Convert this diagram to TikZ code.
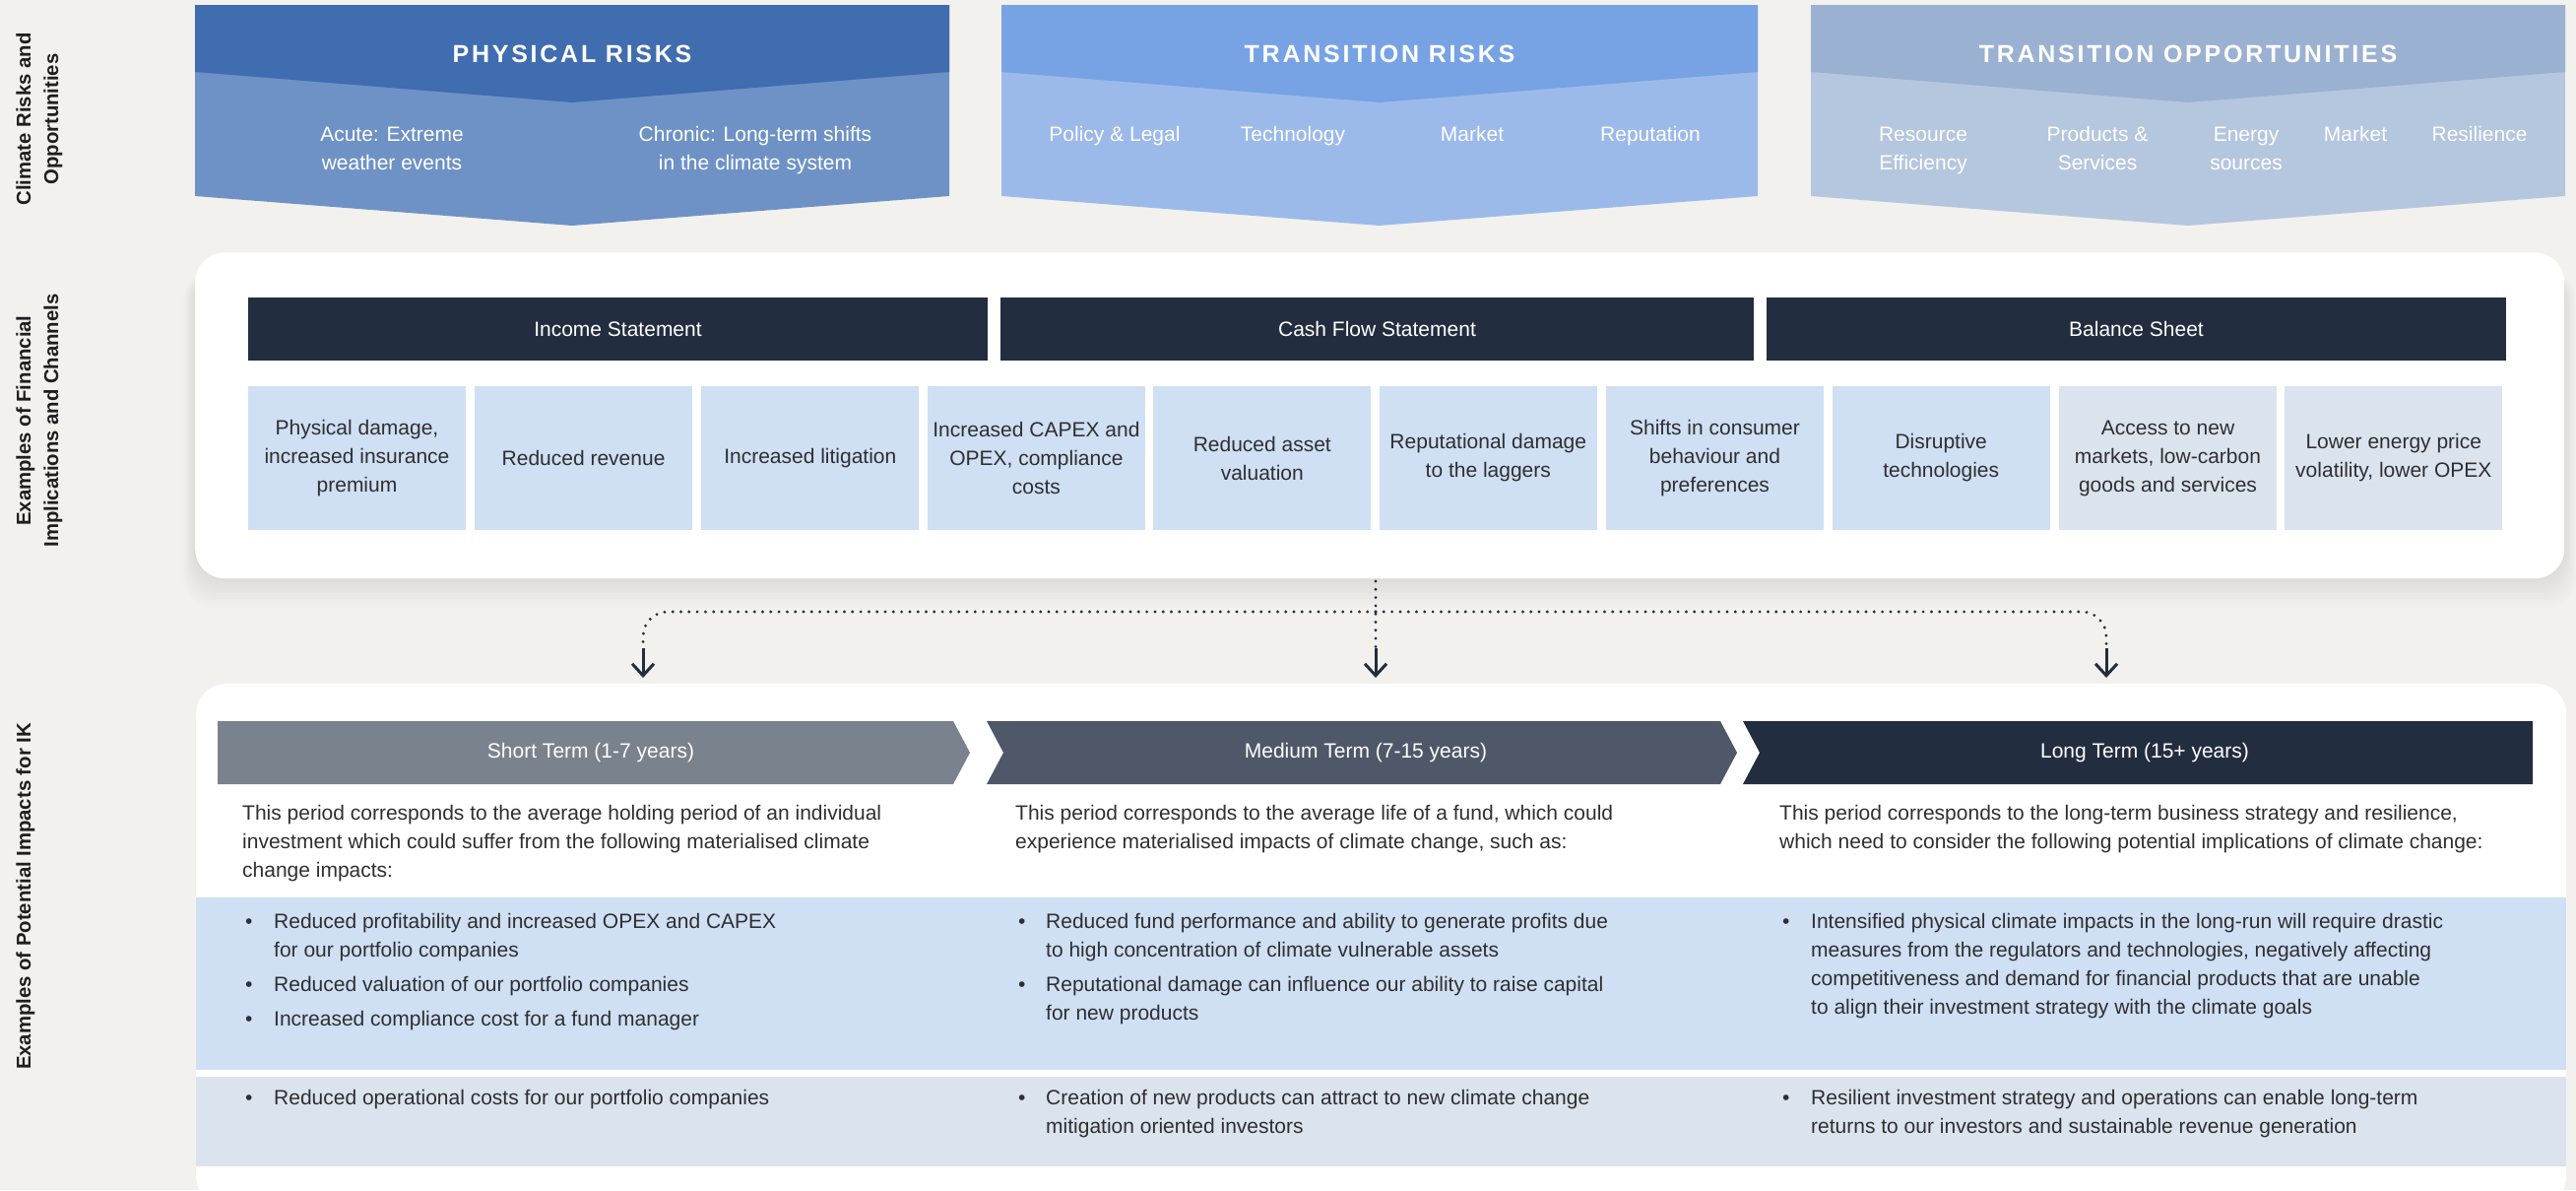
\documentclass[tikz,border=0pt]{standalone}
\usepackage{fontspec}
\setmainfont{Liberation Sans}
\newfontfamily\ttlfont[LetterSpace=11]{Liberation Sans}
\usetikzlibrary{arrows.meta}
\definecolor{bgc}{HTML}{F2F1EE}
\definecolor{physD}{HTML}{406CB0}
\definecolor{physL}{HTML}{6E92C6}
\definecolor{tranD}{HTML}{77A3E4}
\definecolor{tranL}{HTML}{9BBAEA}
\definecolor{oppD}{HTML}{9BB1D1}
\definecolor{oppL}{HTML}{B5C6DF}
\definecolor{navy}{HTML}{222D40}
\definecolor{lblue}{HTML}{CFDFF4}
\definecolor{lgray}{HTML}{DBE3EE}
\definecolor{shortc}{HTML}{7A828E}
\definecolor{medc}{HTML}{4E5869}
\definecolor{textc}{HTML}{2F2F2F}
\definecolor{labc}{HTML}{1E1E1E}
\newcommand\bodyfont{\fontsize{21}{29}\selectfont}
\newcommand\mkbanner[5]{%
  \fill[fill=#5] (#1,5) -- (#2,5) -- (#2,199) -- (#3,229) -- (#1,199) -- cycle;
  \fill[fill=#4] (#1,5) -- (#2,5) -- (#2,73) -- (#3,104) -- (#1,73) -- cycle;}
\begin{document}
\begin{tikzpicture}[x=1pt,y=-1pt,
  bannertitle/.style={text=white,inner sep=0,font=\ttlfont\bfseries\fontsize{25}{30}\selectfont},
  bitem/.style={text=white,align=center,anchor=north,inner sep=0,font=\bodyfont},
  sidelab/.style={rotate=90,align=center,inner sep=0,text=labc,font=\bfseries\fontsize{20.3}{28}\selectfont},
  panel/.style={fill=white,rounded corners=30,inner sep=0,anchor=north west},
  hdr/.style={fill=navy,text=white,minimum height=64,inner sep=0,font=\bodyfont},
  fbox/.style={fill=lblue,text=textc,minimum width=221,minimum height=146,inner sep=0,align=center,font=\bodyfont},
  gbox/.style={fbox,fill=lgray},
  dotl/.style={draw=navy,line width=3.2,line cap=round,dash pattern=on 0pt off 8.3pt},
  arr/.style={draw=navy,line width=3,-{Straight Barb[length=12pt,width=22pt]}},
  term/.style={text=white,inner sep=0,font=\bodyfont},
  para/.style={anchor=north west,inner sep=0,align=left,text=textc,font=\bodyfont},
  blist/.style={anchor=north west,inner sep=0,text=textc,font=\bodyfont}]
\useasboundingbox (0,0) rectangle (2616,1208);
\fill[bgc] (0,0) rectangle (2616,1208);

% side labels
\node[sidelab] (l1) at (40,121) {Climate Risks and\\Opportunities};
\node[sidelab] (l2) at (40,427) {Examples of Financial\\Implications and Channels};
\node[sidelab] (l3) at (26,910) {Examples of Potential Impacts for IK};

% top banners
\mkbanner{198}{964}{581}{physD}{physL}
\mkbanner{1017}{1785}{1401}{tranD}{tranL}
\mkbanner{1839}{2605}{2222}{oppD}{oppL}
\node[bannertitle] (phys) at (581,55) {PHYSICAL RISKS};
\node[bannertitle] (tran) at (1401,55) {TRANSITION RISKS};
\node[bannertitle] (opp) at (2222,55) {TRANSITION OPPORTUNITIES};

\node[bitem] (p1) at (398,123) {\strut Acute: Extreme\\weather events};
\node[bitem] (p2) at (767,123) {\strut Chronic: Long-term shifts\\in the climate system};
\node[bitem] (t1) at (1132,123) {\strut Policy \& Legal};
\node[bitem] (t2) at (1313,123) {\strut Technology};
\node[bitem] (t3) at (1495,123) {\strut Market};
\node[bitem] (t4) at (1676,123) {\strut Reputation};
\node[bitem] (o1) at (1953,123) {\strut Resource\\Efficiency};
\node[bitem] (o2) at (2130,123) {\strut Products \&\\Services};
\node[bitem] (o3) at (2281,123) {\strut Energy\\sources};
\node[bitem] (o4) at (2392,123) {\strut Market};
\node[bitem] (o5) at (2518,123) {\strut Resilience};

% finance panel with soft shadow
\foreach \i in {0,3,...,30}
  \fill[black,opacity=0.007,rounded corners=30] (198-0.4*\i,275) rectangle (2604+0.4*\i,587+\i);
\node[panel,minimum width=2406,minimum height=331] (fin) at (198,256) {};
\node[hdr,minimum width=751] (inc) at (627.5,334) {Income Statement};
\node[hdr,minimum width=765] (cash) at (1398.5,334) {Cash Flow Statement};
\node[hdr,minimum width=751] (bal) at (2169.5,334) {Balance Sheet};

\node[fbox] (f1) at (362.5,465) {Physical damage,\\increased insurance\\premium};
\node[fbox] (f2) at (592.6,465) {Reduced revenue};
\node[fbox] (f3) at (822.8,465) {Increased litigation};
\node[fbox] (f4) at (1052.4,465) {Increased CAPEX and\\OPEX, compliance\\costs};
\node[fbox] (f5) at (1281.8,465) {Reduced asset\\valuation};
\node[fbox] (f6) at (1511.3,465) {Reputational damage\\to the laggers};
\node[fbox] (f7) at (1741.5,465) {Shifts in consumer\\behaviour and\\preferences};
\node[fbox] (f8) at (1971.2,465) {Disruptive\\technologies};
\node[gbox] (f9) at (2201.5,465) {Access to new\\markets, low-carbon\\goods and services};
\node[gbox] (f10) at (2430.8,465) {Lower energy price\\volatility, lower OPEX};

% connectors
\coordinate (src) at (1397,590);
\coordinate (jn) at (1397,621);
\coordinate (sS) at (653,658);
\coordinate (sM) at (1397,658);
\coordinate (sL) at (2139,658);
\coordinate (tS) at (653,688);
\coordinate (tM) at (1397,688);
\coordinate (tL) at (2139,688);
\draw[dotl] (src) -- (sM);
\draw[dotl,rounded corners=25] (jn) -| (sS);
\draw[dotl,rounded corners=25] (jn) -| (sL);
\draw[arr] (sS) -- (tS);
\draw[arr] (sM) -- (tM);
\draw[arr] (sL) -- (tL);

% impacts panel
\node[panel,minimum width=2407,minimum height=530] (imp) at (199,694) {};
\fill[lblue] (199,911) rectangle (2606,1086);
\fill[lgray] (199,1093) rectangle (2606,1184);

\fill[shortc] (221,732) -- (968,732) -- (985,764) -- (968,796) -- (221,796) -- cycle;
\fill[medc] (1002,732) -- (1747,732) -- (1764,764) -- (1747,796) -- (1002,796) -- (1019,764) -- cycle;
\fill[navy] (1770,732) -- (2572,732) -- (2572,796) -- (1770,796) -- (1787,764) -- cycle;
\node[term] (st) at (600,764) {Short Term (1-7 years)};
\node[term] (mt) at (1387,764) {Medium Term (7-15 years)};
\node[term] (lt) at (2178,764) {Long Term (15+ years)};

\node[para] (ps) at (246,811.7) {\strut This period corresponds to the average holding period of an individual\\investment which could suffer from the following materialised climate\\change impacts:};
\node[para] (pm) at (1031,811.7) {\strut This period corresponds to the average life of a fund, which could\\experience materialised impacts of climate change, such as:};
\node[para] (pl) at (1807,811.7) {\strut This period corresponds to the long-term business strategy and resilience,\\which need to consider the following potential implications of climate change:};

\node[blist] (rs) at (249,921.7) {\begin{tabular}{@{}p{29pt}@{}l@{}}
\textbullet & Reduced profitability and increased OPEX and CAPEX\\
 & for our portfolio companies\\[6pt]
\textbullet & Reduced valuation of our portfolio companies\\[6pt]
\textbullet & Increased compliance cost for a fund manager
\end{tabular}};
\node[blist] (rm) at (1034,921.7) {\begin{tabular}{@{}p{28pt}@{}l@{}}
\textbullet & Reduced fund performance and ability to generate profits due\\
 & to high concentration of climate vulnerable assets\\[6pt]
\textbullet & Reputational damage can influence our ability to raise capital\\
 & for new products
\end{tabular}};
\node[blist] (rl) at (1810,921.7) {\begin{tabular}{@{}p{29pt}@{}l@{}}
\textbullet & Intensified physical climate impacts in the long-run will require drastic\\
 & measures from the regulators and technologies, negatively affecting\\
 & competitiveness and demand for financial products that are unable\\
 & to align their investment strategy with the climate goals
\end{tabular}};

\node[blist] (os) at (249,1100.7) {\begin{tabular}{@{}p{29pt}@{}l@{}}
\textbullet & Reduced operational costs for our portfolio companies
\end{tabular}};
\node[blist] (om) at (1034,1100.7) {\begin{tabular}{@{}p{28pt}@{}l@{}}
\textbullet & Creation of new products can attract to new climate change\\
 & mitigation oriented investors
\end{tabular}};
\node[blist] (ol) at (1810,1100.7) {\begin{tabular}{@{}p{29pt}@{}l@{}}
\textbullet & Resilient investment strategy and operations can enable long-term\\
 & returns to our investors and sustainable revenue generation
\end{tabular}};
\end{tikzpicture}
\end{document}
